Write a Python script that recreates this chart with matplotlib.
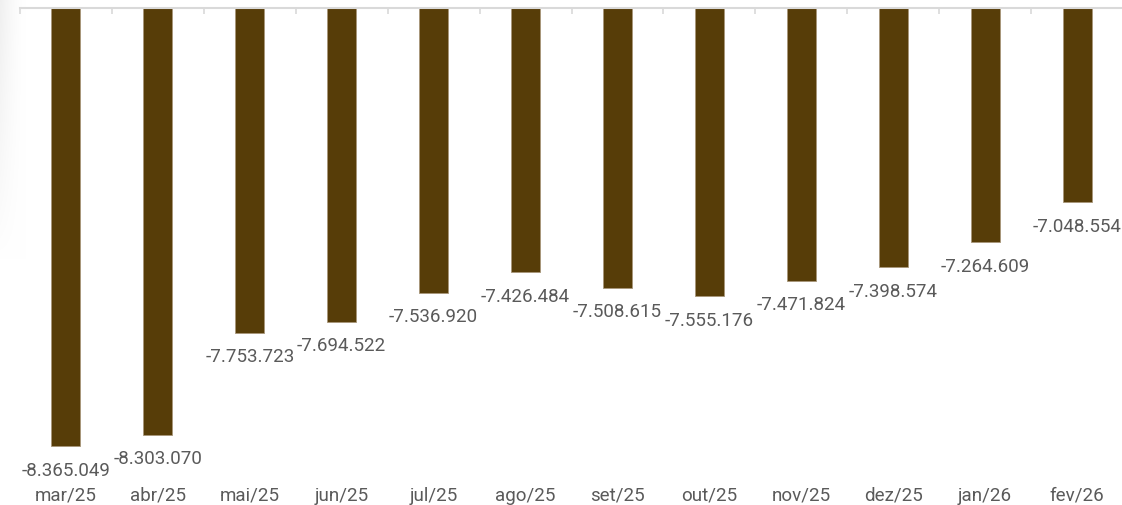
import matplotlib
matplotlib.use("Agg")
import matplotlib.pyplot as plt
import matplotlib.transforms as mtransforms
import numpy as np

categories = ["mar/25", "abr/25", "mai/25", "jun/25", "jul/25", "ago/25",
              "set/25", "out/25", "nov/25", "dez/25", "jan/26", "fev/26"]
values = [-8365049, -8303070, -7753723, -7694522, -7536920, -7426484,
          -7508615, -7555176, -7471824, -7398574, -7264609, -7048554]

def fmt(v):
    s = f"{abs(v):,}".replace(",", ".")
    return ("-" if v < 0 else "") + s

plt.rcParams['font.family'] = ['Roboto', 'DejaVu Sans']
W, H, DPI = 1122, 505, 100
fig = plt.figure(figsize=(W / DPI, H / DPI), dpi=DPI)

# faint shadow at top-left
sh = fig.add_axes([0, 1 - 260 / H, 26 / W, 260 / H])
gx = np.linspace(0, 1, 60)[None, :]
gy = np.linspace(0, 1, 120)[:, None]
img = 1 - 0.06 * (1 - gx) ** 1.5 * (1 - gy) ** 0.8
sh.imshow(np.dstack([img, img, img]), aspect='auto', extent=[0, 1, 0, 1])
sh.axis('off')

top_px, bot_px = 8, 505
left_px, right_px = 20, 1123
ax = fig.add_axes([left_px / W, 1 - bot_px / H, (right_px - left_px) / W, (bot_px - top_px) / H])
ax.set_zorder(2)
ax.patch.set_alpha(0)

x = np.arange(len(categories))
ax.bar(x, values, width=0.315, color="#573d08", edgecolor="#a8977a", linewidth=0.6)
ax.set_xlim(-0.5, len(categories) - 0.5)
top_val = -6.0e6
scale = 5397.0  # units per pixel
ax.set_ylim(top_val - (bot_px - top_px) * scale, top_val)

for xi, v in zip(x, values):
    ax.annotate(fmt(v), (xi, v), xytext=(0, -24.5 * 0.72), textcoords='offset points',
                ha='center', va='center', fontsize=13.5, color="#5a5a5a")

trans = mtransforms.blended_transform_factory(ax.transData, fig.transFigure)
for xi, c in zip(x, categories):
    ax.text(xi, 1 - 496 / H, c, transform=trans, ha='center', va='center',
            fontsize=13.5, color="#5a5a5a")

for s in ['left', 'right', 'bottom']:
    ax.spines[s].set_visible(False)
ax.spines['top'].set_color("#d9d9d9")
ax.spines['top'].set_linewidth(1.5)
ax.xaxis.set_ticks_position('top')
ax.set_xticks(np.arange(-0.5, len(categories), 1.0))
ax.tick_params(axis='x', direction='in', length=4, width=1.2, color="#d9d9d9",
               labeltop=False, labelbottom=False)
ax.set_yticks([])

fig.savefig("out.png", dpi=DPI, facecolor="white")
